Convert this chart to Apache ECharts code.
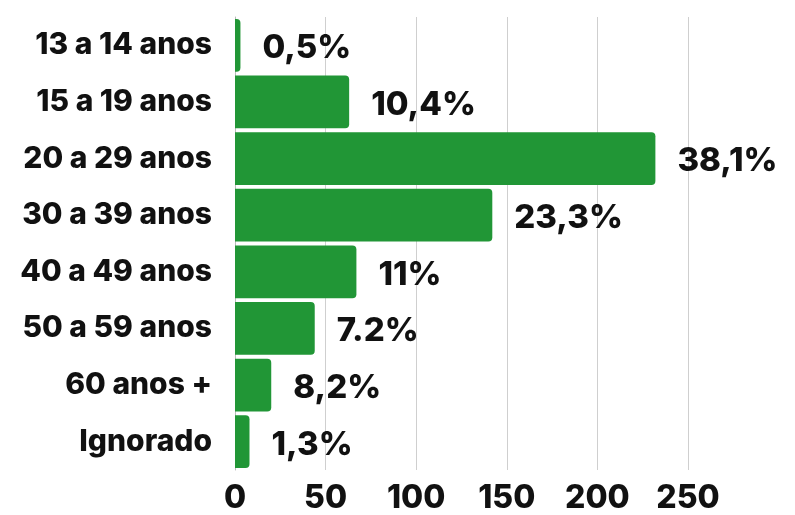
<!DOCTYPE html>
<html><head><meta charset="utf-8">
<script src="https://cdn.jsdelivr.net/npm/echarts@6/dist/echarts.min.js"></script>
<style>html,body{margin:0;padding:0;background:#fff}#c{width:795px;height:515px}</style>
</head><body><div id="c"></div>
<script>
const categories = ['13 a 14 anos','15 a 19 anos','20 a 29 anos','30 a 39 anos','40 a 49 anos','50 a 59 anos','60 anos +','Ignorado'];
const values = [3, 63, 232, 142, 67, 44, 20, 8];
const pctLabels = ['0,5%','10,4%','38,1%','23,3%','11%','7.2%','8,2%','1,3%'];
const xTicks = [0, 50, 100, 150, 200, 250];

const chart = echarts.init(document.getElementById('c'));
chart.setOption({
  animation: false,
  grid: { left: 235, right: 107, top: 17, bottom: 45, containLabel: false },
  xAxis: {
    type: 'value', min: xTicks[0], max: xTicks[xTicks.length-1], interval: 50,
    axisLine: { show: false }, axisTick: { show: false },
    splitLine: { lineStyle: { color: '#cfcfcf', width: 1 } },
    axisLabel: { fontFamily: 'Inter', fontWeight: 800, fontSize: 32, color: '#111', margin: 12 }
  },
  yAxis: {
    type: 'category', data: categories, inverse: true,
    axisLine: { show: true, lineStyle: { color: '#bbb' } }, axisTick: { show: false },
    axisLabel: { fontFamily: 'Inter', fontWeight: 800, fontSize: 30, color: '#111', margin: 23 }
  },
  series: [{
    type: 'bar', data: values, barCategoryGap: '7%',
    itemStyle: { color: '#219636', borderRadius: [0, 4, 4, 0] },
    label: {
      show: true, position: 'right', distance: 22, offset: [0, 3],
      fontFamily: 'Inter', fontWeight: 800, fontSize: 33, color: '#111',
      formatter: p => pctLabels[p.dataIndex]
    }
  }]
});
</script></body></html>
